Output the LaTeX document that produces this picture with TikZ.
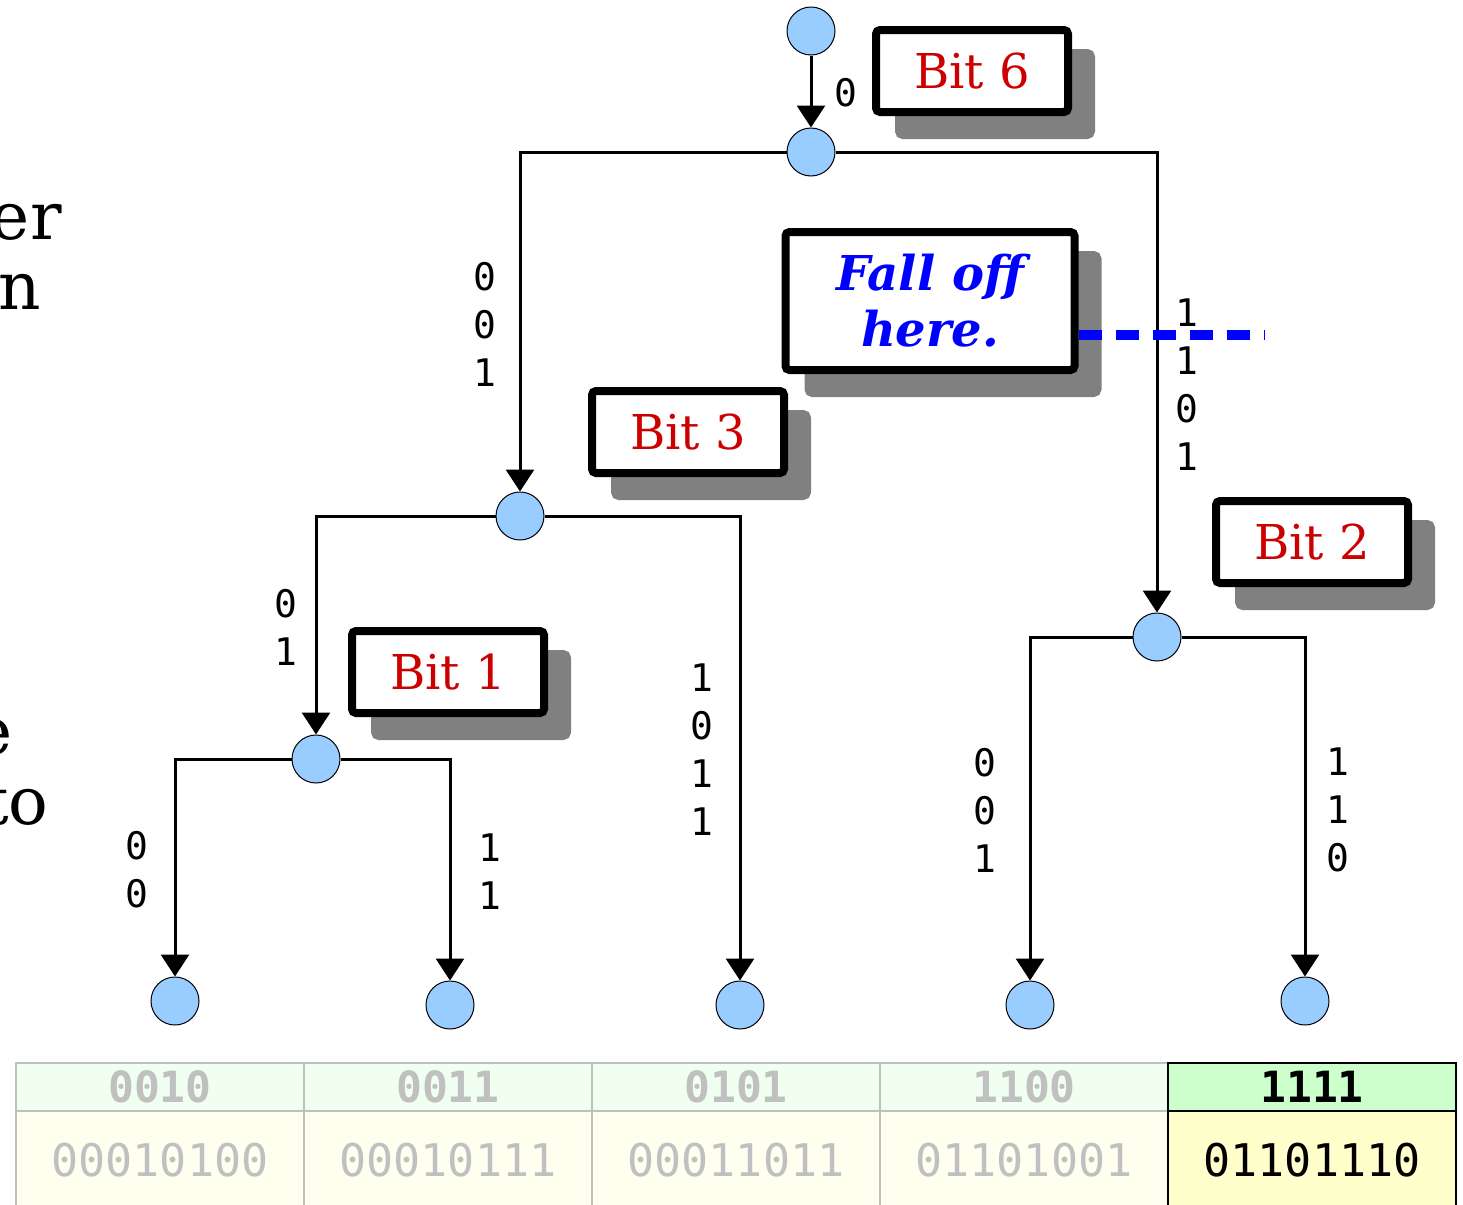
\documentclass[tikz,border=0pt]{standalone}
\usepackage{fontspec}
\setmainfont{DejaVu Serif}
\newfontfamily\bitmono{DejaVu Sans Mono}
\usetikzlibrary{arrows.meta,calc,positioning,shadows}
\definecolor{nodeblue}{HTML}{99CCFF}
\definecolor{bitred}{HTML}{CC0000}
\definecolor{shadowgray}{HTML}{808080}
\definecolor{hdrgreen}{HTML}{F0FFF0}
\definecolor{hdrsel}{HTML}{CCFFCC}
\definecolor{bodyivory}{HTML}{FFFFF0}
\definecolor{bodysel}{HTML}{FFFFCC}
\definecolor{fadegray}{HTML}{C0C0C0}
\tikzset{%
	treenode/.style = {draw, circle, fill=nodeblue, line width=0.5pt, minimum size=24pt, inner sep=0pt},
	bitbox/.style   = {draw, rectangle, rounded corners=2pt, line width=4pt, fill=white, minimum width=96pt, minimum height=41pt, text centered,
	                   drop shadow={shadow xshift=11.5pt, shadow yshift=-11.5pt, fill=shadowgray, draw=shadowgray, line width=4pt, opacity=1}},
	bitlabel/.style = {bitbox, text=bitred, font=\fontsize{24}{28}\selectfont},
	arrow/.style    = {line width=1.5pt, -{Triangle[width=14pt,length=11pt]}},
	bits/.style     = {font=\bitmono\fontsize{19}{24}\selectfont, align=center, inner sep=0pt},
	hcell/.style    = {draw=fadegray, line width=1pt, fill=hdrgreen, minimum width=144pt, minimum height=24pt, inner sep=0pt,
	                   text=fadegray, font=\bitmono\bfseries\fontsize{21.5}{24}\selectfont},
	bcell/.style    = {draw=fadegray, line width=1pt, fill=bodyivory, minimum width=144pt, minimum height=49pt, inner sep=0pt,
	                   text=fadegray, font=\bitmono\fontsize{22.5}{26}\selectfont},
	falloff/.style  = {blue, line width=5pt, dash pattern=on 11.5pt off 7pt},
}
\begin{document}
\begin{tikzpicture}[x=0.5pt,y=-0.5pt]
	\useasboundingbox (0,0) rectangle (1463,1205);
	
	% cut-off slide text at the left edge
	\node[anchor=base east, inner sep=0pt, font=\fontsize{33}{40}\selectfont] (frag1) at (62,239) {er};
	\node[anchor=base east, inner sep=0pt, font=\fontsize{33}{40}\selectfont] (frag2) at (41,309) {n};
	\node[anchor=base east, inner sep=0pt, font=\fontsize{33}{40}\selectfont] (frag3) at (13,754) {e};
	\node[anchor=base east, inner sep=0pt, font=\fontsize{33}{40}\selectfont] (frag4) at (49,824) {to};
	
	% tree
	\node[treenode] (root) at (811,31) {};
	\node[treenode] (n6) at (811,152) {};
	\node[treenode] (n3) at (520,516) {};
	\node[treenode] (n2) at (1157,637) {};
	\node[treenode] (n1) at (316,759) {};
	\node[treenode] (leafA) at (175,1001) {};
	\node[treenode] (leafB) at (450,1005) {};
	\node[treenode] (leafC) at (740,1005) {};
	\node[treenode] (leafD) at (1030,1005) {};
	\node[treenode] (leafE) at (1305,1001) {};
	
	\draw[arrow] (root) -- (n6);
	\draw[arrow] (n6.west) -| (n3.north);
	\draw[arrow] (n6.east) -| (n2.north);
	\draw[arrow] (n3.west) -| (n1.north);
	\draw[arrow] (n3.east) -| (leafC.north);
	\draw[arrow] (n1.west) -| (leafA.north);
	\draw[arrow] (n1.east) -| (leafB.north);
	\draw[arrow] (n2.west) -| (leafD.north);
	\draw[arrow] (n2.east) -| (leafE.north);
	
	% bit strings along the edges
	\node[bits] (bRoot) at (846,93) {0};
	\node[bits] (bN3) at (485,324) {0\\0\\1};
	\node[bits] (bN2) at (1187,385) {1\\1\\0\\1};
	\node[bits] (bN1) at (286,627) {0\\1};
	\node[bits] (bLeafC) at (702,750) {1\\0\\1\\1};
	\node[bits] (bLeafA) at (137,870) {0\\0};
	\node[bits] (bLeafB) at (490,872) {1\\1};
	\node[bits] (bLeafD) at (985,810) {0\\0\\1};
	\node[bits] (bLeafE) at (1338,810) {1\\1\\0};
	
	% bit boxes
	\node[bitlabel] (bit6) at (972,71) {Bit 6};
	\node[bitlabel] (bit3) at (688,432) {Bit 3};
	\node[bitlabel] (bit2) at (1312,542) {Bit 2};
	\node[bitlabel] (bit1) at (448,672) {Bit 1};
	\node[bitbox, minimum width=144.5pt, minimum height=69pt, align=center, text=blue,
	      font=\bfseries\itshape\fontsize{24}{28}\selectfont] (fall) at (930,301) {Fall off\\here.};
	
	% table of keys
	\foreach \i/\x/\key/\code in {1/160/0010/00010100, 2/448/0011/00010111, 3/736/0101/00011011, 4/1024/1100/01101001}{
		\node[hcell] (hdr\i) at (\x,1087) {\key};
		\node[bcell] (cell\i) at (\x,1160) {\code};
	}
	\node[hcell, draw=black, fill=hdrsel, text=black] (hdr5) at (1312,1087) {1111};
	\node[bcell, draw=black, fill=bodysel, text=black] (cell5) at (1312,1160) {01101110};
	
	% where the search falls off
	\coordinate (dropend) at (1265,335);
	\draw[falloff] (fall.east |- dropend) -- (dropend);
	
\end{tikzpicture}
\end{document}
